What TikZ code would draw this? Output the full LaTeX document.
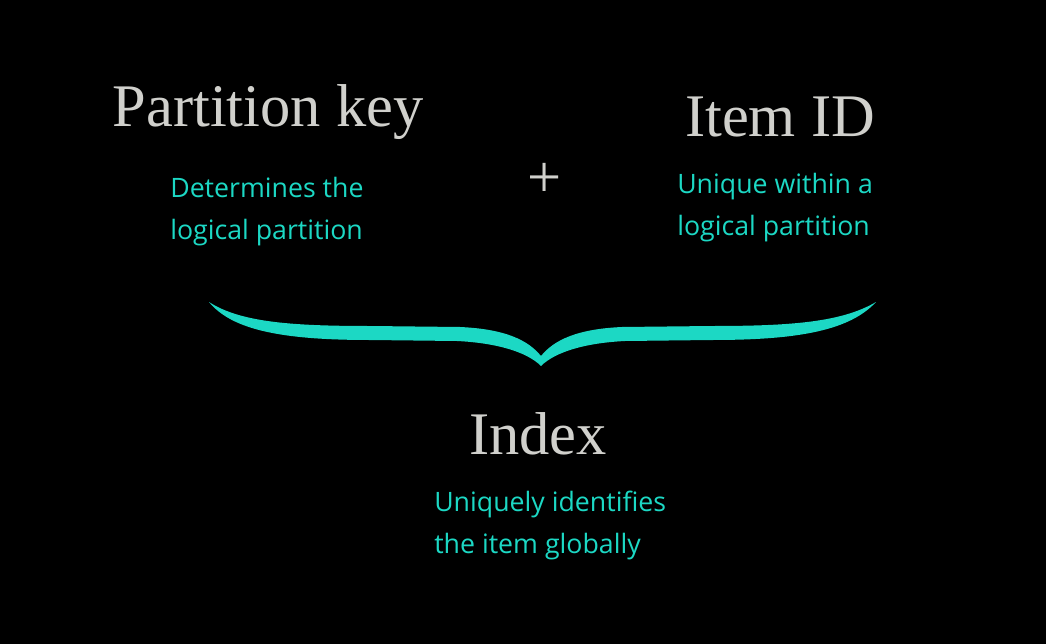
\documentclass[tikz,border=0pt]{standalone}
\usepackage{fontspec}
\setmainfont{Liberation Serif}
\newfontfamily\descfont{Open Sans}
\begin{document}
\begin{tikzpicture}[x=0.025cm,y=-0.025cm]
\definecolor{headc}{HTML}{D0D0CC}
\definecolor{cyanc}{HTML}{1CD8C4}
\tikzset{
  head/.style={text=headc,font=\fontsize{43}{48}\selectfont,inner sep=0pt},
  desc/.style={text=cyanc,font=\descfont\fontsize{19}{29.5}\selectfont,align=left,anchor=north west,inner sep=0pt}
}
\fill[black] (0,0) rectangle (1046,644);
\useasboundingbox (0,0) rectangle (1046,644);
\node[head] (pk) at (268,112) {Partition key};
\node[head] (plus) at (545,180) {+};
\node[head] (iid) at (780,117) {Item ID};
\node[head] (idx) at (538,434) {Index};
\node[desc] (pkd) at (170,177) {Determines the\\logical partition};
\node[desc] (iidd) at (677,173) {Unique within a\\logical partition};
\node[desc] (idxd) at (434,491) {Uniquely identifies\\the item globally};
\fill[cyanc] (209,302) .. controls (240,322) and (290,326) .. (370,326)
  -- (460,327) .. controls (505,329) and (528,340) .. (541,356)
  .. controls (554,340) and (577,329) .. (622,327)
  -- (712,326) .. controls (792,326) and (842,322) .. (876,302)
  .. controls (850,330) and (800,340) .. (712,340)
  -- (625,341) .. controls (585,343) and (555,352) .. (541,366)
  .. controls (527,352) and (497,343) .. (457,341)
  -- (370,340) .. controls (282,340) and (232,330) .. (209,302) -- cycle;
\end{tikzpicture}
\end{document}
